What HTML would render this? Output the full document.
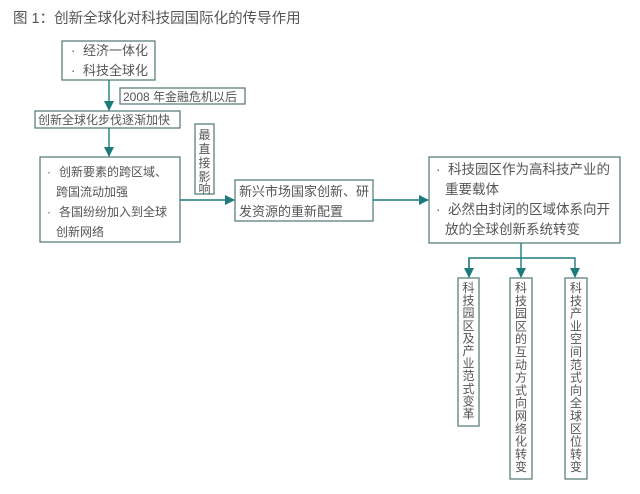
<!DOCTYPE html>
<html><head><meta charset="utf-8"><style>
html,body{margin:0;padding:0;background:#fff}
svg text{font-family:"Liberation Sans","Noto Sans CJK SC",sans-serif;fill:#555}
</style></head><body>
<svg width="640" height="489" viewBox="0 0 640 489" xmlns="http://www.w3.org/2000/svg">
<defs><marker id="a" markerWidth="10" markerHeight="10" refX="9" refY="5" orient="auto" markerUnits="userSpaceOnUse"><path d="M0,0 L10,5 L0,10 z" fill="#1e7b7b"/></marker></defs>
<text x="13" y="23" font-size="14.5">图 1：创新全球化对科技园国际化的传导作用</text>
<g fill="none" stroke="#5b7f7d" stroke-width="1.3">
<rect x="62" y="41" width="93" height="39"/>
<rect x="120" y="88" width="125" height="16"/>
<rect x="35" y="111" width="145" height="17"/>
<rect x="40" y="157" width="140" height="85"/>
<rect x="195" y="124" width="19" height="70"/>
<rect x="235" y="180" width="138" height="41"/>
<rect x="429" y="157" width="191" height="86"/>
<rect x="458" y="278" width="21" height="148"/>
<rect x="510" y="278" width="22" height="201"/>
<rect x="565" y="278" width="22" height="201"/>
</g>
<g stroke="#1e7b7b" stroke-width="1.4" fill="none">
<line x1="109" y1="80" x2="109" y2="110" marker-end="url(#a)"/>
<line x1="109" y1="128" x2="109" y2="156" marker-end="url(#a)"/>
<line x1="180" y1="200" x2="234" y2="200" marker-end="url(#a)"/>
<line x1="373" y1="200" x2="428" y2="200" marker-end="url(#a)"/>
<line x1="521" y1="243" x2="521" y2="277" marker-end="url(#a)"/>
<polyline points="469,277 469,258 575,258 575,277" marker-end="url(#a)"/>
<line x1="469" y1="258" x2="469" y2="277" marker-end="url(#a)"/>
</g>
<g font-size="13">
<text x="71" y="55">·</text><text x="83" y="55">经济一体化</text>
<text x="71" y="75">·</text><text x="83" y="75">科技全球化</text>
<text x="239" y="196">新兴市场国家创新、研</text>
<text x="239" y="216">发资源的重新配置</text>
</g>
<g font-size="12">
<text x="123" y="101">2008 年金融危机以后</text>
<text x="38" y="124">创新全球化步伐逐渐加快</text>
<text x="47" y="176">·</text><text x="59" y="176">创新要素的跨区域、</text>
<text x="56" y="196">跨国流动加强</text>
<text x="47" y="216">·</text><text x="59" y="216">各国纷纷加入到全球</text>
<text x="56" y="236">创新网络</text>
</g>
<g font-size="13.5">
<text x="436" y="174">·</text><text x="448" y="174">科技园区作为高科技产业的</text>
<text x="445" y="194">重要载体</text>
<text x="436" y="214">·</text><text x="448" y="214">必然由封闭的区域体系向开</text>
<text x="445" y="234">放的全球创新系统转变</text>
</g>
<g font-size="12" text-anchor="middle">
<text x="204.5" y="139">最</text><text x="204.5" y="153">直</text><text x="204.5" y="167">接</text><text x="204.5" y="181">影</text><text x="204.5" y="193">响</text>
</g>
<g font-size="12" text-anchor="middle">
<text x="468.5" y="292">科</text><text x="468.5" y="304.6">技</text><text x="468.5" y="317.2">园</text><text x="468.5" y="329.8">区</text><text x="468.5" y="342.4">及</text><text x="468.5" y="355">产</text><text x="468.5" y="367.6">业</text><text x="468.5" y="380.2">范</text><text x="468.5" y="392.8">式</text><text x="468.5" y="405.4">变</text><text x="468.5" y="418">革</text>
</g>
<g font-size="12" text-anchor="middle">
<text x="521" y="292">科</text><text x="521" y="304.8">技</text><text x="521" y="317.6">园</text><text x="521" y="330.4">区</text><text x="521" y="343.2">的</text><text x="521" y="356">互</text><text x="521" y="368.8">动</text><text x="521" y="381.6">方</text><text x="521" y="394.4">式</text><text x="521" y="407.2">向</text><text x="521" y="420">网</text><text x="521" y="432.8">络</text><text x="521" y="445.6">化</text><text x="521" y="458.4">转</text><text x="521" y="471.2">变</text>
</g>
<g font-size="12" text-anchor="middle">
<text x="576" y="292">科</text><text x="576" y="304.8">技</text><text x="576" y="317.6">产</text><text x="576" y="330.4">业</text><text x="576" y="343.2">空</text><text x="576" y="356">间</text><text x="576" y="368.8">范</text><text x="576" y="381.6">式</text><text x="576" y="394.4">向</text><text x="576" y="407.2">全</text><text x="576" y="420">球</text><text x="576" y="432.8">区</text><text x="576" y="445.6">位</text><text x="576" y="458.4">转</text><text x="576" y="471.2">变</text>
</g>
</svg>
</body></html>
